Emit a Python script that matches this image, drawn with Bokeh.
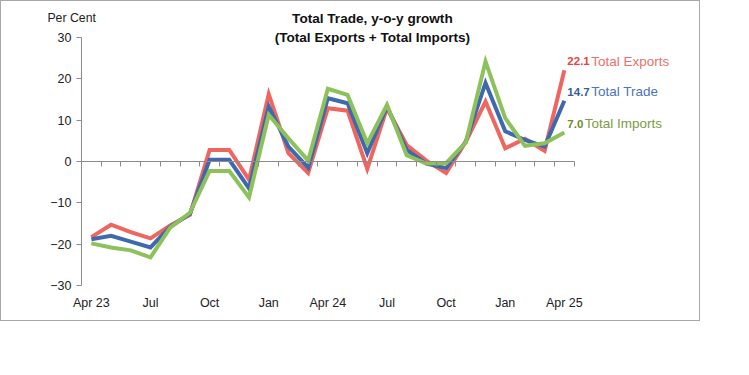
import numpy as np
from bokeh.plotting import figure
from bokeh.models import Range1d, FixedTicker, Label, LinearAxis
from bokeh.embed import file_html
from bokeh.resources import INLINE

months = ["Apr 23", "May 23", "Jun 23", "Jul 23", "Aug 23", "Sep 23", "Oct 23", "Nov 23",
          "Dec 23", "Jan 24", "Feb 24", "Mar 24", "Apr 24", "May 24", "Jun 24", "Jul 24",
          "Aug 24", "Sep 24", "Oct 24", "Nov 24", "Dec 24", "Jan 25", "Feb 25", "Mar 25",
          "Apr 25"]
exports = [-18.3, -15.3, -17.1, -18.6, -15.5, -12.9, 2.8, 2.8, -4.4, 16.3, 2.0, -2.8, 12.9,
           12.3, -1.8, 12.9, 4.0, 0.2, -2.8, 4.8, 14.5, 3.2, 5.5, 2.6, 22.1]
trade = [-18.8, -18.0, -19.4, -20.8, -15.8, -12.7, 0.4, 0.4, -6.5, 13.3, 3.6, -1.5, 15.3,
         14.1, 2.0, 13.3, 2.8, -0.5, -1.6, 4.8, 19.0, 7.3, 5.2, 3.6, 14.7]
imports = [-19.8, -20.8, -21.5, -23.2, -16.0, -12.4, -2.3, -2.3, -8.7, 11.3, 5.6, 0.2, 17.6,
           16.1, 4.4, 13.7, 1.5, -0.5, -0.4, 4.6, 24.2, 10.5, 3.8, 4.4, 7.0]
tick_idx = [0, 3, 6, 9, 12, 15, 18, 21, 24]
tick_labels = ["Apr 23", "Jul", "Oct", "Jan", "Apr 24", "Jul", "Oct", "Jan", "Apr 25"]
y_ticks = [-30, -20, -10, 0, 10, 20, 30]
series_names = ["Total Exports", "Total Trade", "Total Imports"]

FONT = "Liberation Sans"
line_colors = ["#EF665F", "#3F69AE", "#8DC15A"]
num_colors = ["#E4463F", "#35609F", "#6C8C2E"]
name_colors = ["#E8716B", "#4C74B8", "#7E9A46"]
axis_color = "#8c8c8c"

# pixel geometry of the plotting area inside a 700x321 canvas
W, H = 700, 321
AX_L, AX_R = 80, 572.7      # category axis extent
AX_T, AX_B = 36, 284        # value axis extent
FRAME_B = 291               # frame bottom (room for the lowest tick label)

n = len(months)
x = np.arange(n)
xstep = (AX_R - AX_L) / n
ystep = (AX_B - AX_T) / (y_ticks[-1] - y_ticks[0])
x_lo = -0.5 - AX_L / xstep
x_hi = -0.5 + (W - AX_L) / xstep
y_hi = y_ticks[-1] + AX_T / ystep
y_lo = y_ticks[0] - (FRAME_B - AX_B) / ystep

p = figure(width=W, height=H, output_backend="svg", toolbar_location=None,
           x_range=Range1d(x_lo, x_hi), y_range=Range1d(y_lo, y_hi),
           min_border_left=0, min_border_right=0, min_border_top=0,
           min_border_bottom=H - FRAME_B)
p.outline_line_color = None
p.xgrid.visible = False
p.ygrid.visible = False
p.background_fill_color = "white"
p.border_fill_color = "white"
p.styles = {"border": "1px solid #a8a8a8"}

# value axis, drawn at the left edge of the categories
ya = p.yaxis[0]
ya.fixed_location = -0.5
ya.bounds = (y_ticks[0], y_ticks[-1])
ya.ticker = FixedTicker(ticks=y_ticks)
ya.axis_line_color = axis_color
ya.major_tick_line_color = axis_color
ya.major_tick_out = 5
ya.major_tick_in = 0
ya.minor_tick_line_color = None
ya.major_label_text_font = FONT
ya.major_label_text_font_size = "12.5px"
ya.major_label_text_color = "#222222"
ya.major_label_standoff = 5

# bottom axis: month labels only
xa = p.xaxis[0]
xa.ticker = FixedTicker(ticks=tick_idx)
xa.major_label_overrides = {i: l for i, l in zip(tick_idx, tick_labels)}
xa.axis_line_color = None
xa.major_tick_line_color = None
xa.minor_tick_line_color = None
xa.major_label_text_font = FONT
xa.major_label_text_font_size = "12.5px"
xa.major_label_text_color = "#222222"
xa.major_label_standoff = -3

# zero axis with ticks between categories
bounds = list(np.arange(n + 1) - 0.5)
za = LinearAxis(fixed_location=0, bounds=(-0.5, n - 0.5), ticker=FixedTicker(ticks=bounds),
                axis_line_color=axis_color, major_tick_line_color=axis_color,
                major_tick_out=5, major_tick_in=0, minor_tick_line_color=None,
                major_label_text_color=None, major_label_text_font_size="1px")
p.add_layout(za, "below")

series = [exports, trade, imports]
for vals, col in zip(series, line_colors):
    p.line(x, vals, line_color=col, line_width=4, line_join="miter")

# end labels
char_w = {".": 0.278}
NUM_SIZE, NAME_SIZE = 11.5, 13.5
for vals, name, nc, tc in zip(series, series_names, num_colors, name_colors):
    num = f"{vals[-1]:.1f}"
    num_w = sum(char_w.get(c, 0.556) for c in num) * NUM_SIZE
    p.add_layout(Label(x=n - 1, y=vals[-1], text=num, x_offset=3, y_offset=9,
                       text_font=FONT, text_font_size=f"{NUM_SIZE}px", text_font_style="bold",
                       text_color=nc, text_baseline="middle", text_align="left"))
    p.add_layout(Label(x=n - 1, y=vals[-1], text=name, x_offset=3 + num_w + 1.5, y_offset=9,
                       text_font=FONT, text_font_size=f"{NAME_SIZE}px",
                       text_color=tc, text_baseline="middle", text_align="left"))

# titles
p.add_layout(Label(x=14.26, y=34.6, text="Total Trade, y-o-y growth", text_font=FONT,
                   text_font_size="13.6px", text_font_style="bold", text_color="#111111",
                   text_align="center", text_baseline="middle"))
p.add_layout(Label(x=14.26, y=30.1, text="(Total Exports + Total Imports)", text_font=FONT,
                   text_font_size="13.6px", text_font_style="bold", text_color="#111111",
                   text_align="center", text_baseline="middle"))
p.add_layout(Label(x=-1.0, y=34.8, text="Per Cent", text_font=FONT,
                   text_font_size="12.3px", text_color="#222222",
                   text_align="center", text_baseline="middle"))

open("out.html", "w").write(file_html(p, INLINE))
